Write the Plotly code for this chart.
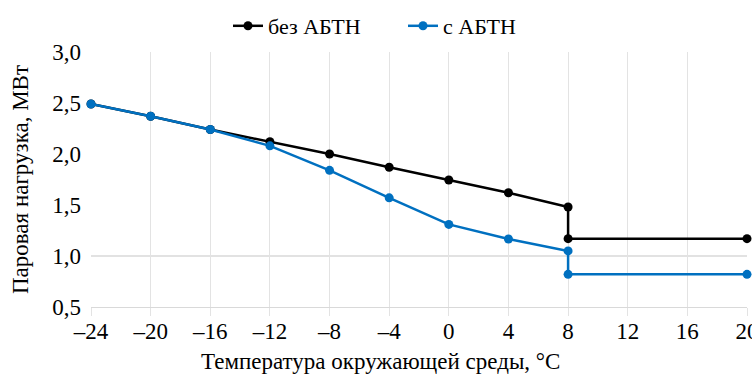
import plotly.graph_objects as go

x_vals = [-24, -20, -16, -12, -8, -4, 0, 4, 8, 8, 20]
bez_abtn = [2.49, 2.37, 2.24, 2.12, 2.00, 1.87, 1.745, 1.62, 1.48, 1.17, 1.17]
s_abtn = [2.49, 2.37, 2.24, 2.08, 1.84, 1.57, 1.31, 1.167, 1.05, 0.82, 0.82]

x_ticks = [-24, -20, -16, -12, -8, -4, 0, 4, 8, 12, 16, 20]
x_ticktext = ["–24", "–20", "–16", "–12", "–8", "–4", "0", "4", "8", "12", "16", "20"]
y_ticks = [0.5, 1.0, 1.5, 2.0, 2.5, 3.0]
y_ticktext = ["0,5", "1,0", "1,5", "2,0", "2,5", "3,0"]
x_title = "Температура окружающей среды, °С"
y_title = "Паровая нагрузка, МВт"

font_family = "Liberation Serif, Times New Roman, Times, DejaVu Serif, serif"

W, H = 752, 374
L, R, T, B = 91, 5, 52, 67
plot_h = H - T - B
plot_w = W - L - R

fig = go.Figure()
fig.add_trace(go.Scatter(
    x=x_vals, y=bez_abtn, name="без АБТН", mode="lines+markers", cliponaxis=False,
    line=dict(color="#000000", width=2.5), marker=dict(size=9, color="#000000")))
fig.add_trace(go.Scatter(
    x=x_vals, y=s_abtn, name="с АБТН", mode="lines+markers", cliponaxis=False,
    line=dict(color="#0070C0", width=2.5), marker=dict(size=9, color="#0070C0")))

fig.add_shape(type="line", xref="paper", yref="y", x0=0, x1=1, y0=1.0, y1=1.0,
              line=dict(color="#d9d9d9", width=1.3), layer="below")

fig.add_annotation(text=x_title, xref="paper", yref="paper",
                   x=(380 - L) / plot_w, xanchor="center",
                   y=-(361 - (H - B)) / plot_h, yanchor="middle",
                   showarrow=False, font=dict(size=23, family=font_family, color="#000000"))

fig.update_layout(
    width=W, height=H,
    margin=dict(l=L, r=R, t=T, b=B, autoexpand=False),
    paper_bgcolor="white", plot_bgcolor="white",
    font=dict(family=font_family, color="#000000", size=20),
    legend=dict(orientation="h", x=228 / W, xanchor="left", xref="container",
                y=1 - 26 / H, yanchor="middle", yref="container",
                font=dict(size=22, family=font_family),
                entrywidth=130, entrywidthmode="pixels",
                tracegroupgap=0),
    showlegend=True,
)
fig.update_xaxes(
    range=[-24, 20], tickvals=x_ticks, ticktext=x_ticktext, automargin=False,
    showgrid=True, gridcolor="#e3e3e3", gridwidth=1.3,
    showline=True, linecolor="#d9d9d9", linewidth=1.3,
    ticks="outside", ticklen=8, tickcolor="#e3e3e3", tickwidth=1.3,
    zeroline=False, tickfont=dict(size=23, family=font_family), ticklabelstandoff=-5,
    ticklabeloverflow="allow",
)
fig.update_yaxes(
    range=[0.5, 3.0], tickvals=y_ticks, ticktext=y_ticktext, automargin=False,
    showgrid=False, showline=False, zeroline=False, ticks="",
    tickfont=dict(size=23, family=font_family), ticklabelstandoff=9,
    title=dict(text=y_title, font=dict(size=23, family=font_family), standoff=17),
)

fig.write_html(
    "out.html",
    post_script=(
        "document.body.style.margin='0';document.body.style.overflow='hidden';"
        "var s=document.createElement('style');"
        "s.textContent='.modebar-container{display:none !important}';"
        "document.head.appendChild(s);"
    ),
)
